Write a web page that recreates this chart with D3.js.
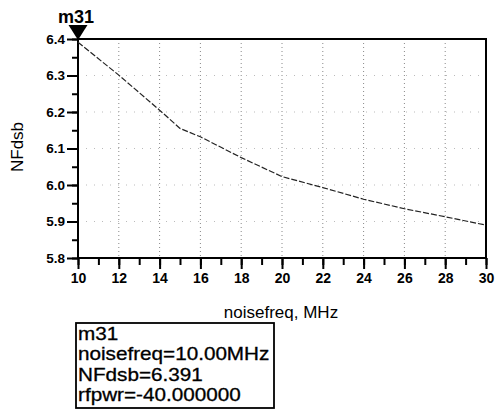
<!DOCTYPE html>
<html>
<head>
<meta charset="utf-8">
<script src="https://cdn.jsdelivr.net/npm/d3@7.9.0/dist/d3.min.js"></script>
<style>
  body { margin: 0; background: #fff; }
  svg { display: block; font-family: "Liberation Sans", Arial, sans-serif; }
</style>
</head>
<body>
<svg id="chart" width="495" height="412"></svg>
<script>
// Data
const noisefreq = [10, 12, 14, 15, 16, 18, 20, 22, 24, 26, 28, 30];
const nfdsb = [6.391, 6.301, 6.205, 6.155, 6.132, 6.075, 6.023, 5.993, 5.961, 5.935, 5.913, 5.890];
const xTicks = [10, 12, 14, 16, 18, 20, 22, 24, 26, 28, 30];
const yTicks = [5.8, 5.9, 6.0, 6.1, 6.2, 6.3, 6.4];
const markerName = 'm31';
const markerLines = ['m31', 'noisefreq=10.00MHz', 'NFdsb=6.391', 'rfpwr=-40.000000'];

const svg = d3.select('#chart');
const plotLeft = 78, plotRight = 486, plotTop = 39, plotBottom = 258;

const x = d3.scaleLinear().domain([10, 30]).range([plotLeft, plotRight]);
const y = d3.scaleLinear().domain([5.8, 6.4]).range([plotBottom, plotTop]);

// Dotted grid
const grid = svg.append('g');
grid.selectAll('line.vg')
  .data(xTicks.slice(1, -1))
  .join('line')
  .attr('x1', (d) => x(d)).attr('x2', (d) => x(d))
  .attr('y1', plotTop).attr('y2', plotBottom)
  .attr('stroke', '#888').attr('stroke-width', 1)
  .attr('stroke-dasharray', '1,3');
grid.selectAll('line.hg')
  .data(yTicks.slice(1, -1))
  .join('line')
  .attr('x1', plotLeft).attr('x2', plotRight)
  .attr('y1', (d) => y(d)).attr('y2', (d) => y(d))
  .attr('stroke', '#bbb').attr('stroke-width', 1)
  .attr('stroke-dasharray', '1,7');

// Axes with minor ticks
const xMinor = d3.range(10, 31, 1);
const yMinor = d3.range(0, 13).map((i) => 5.8 + i * 0.05);

svg.append('g')
  .attr('transform', `translate(0,${plotBottom})`)
  .call(d3.axisBottom(x).tickValues(xMinor).tickSize(7).tickFormat(''))
  .call((g) => g.select('.domain').remove())
  .call((g) => g.selectAll('line').attr('stroke-width', 2));

svg.append('g')
  .attr('transform', `translate(0,${plotBottom})`)
  .call(d3.axisBottom(x).tickValues(xTicks).tickSize(11).tickPadding(4).tickFormat(d3.format('d')))
  .call((g) => g.select('.domain').remove())
  .call((g) => g.selectAll('line').attr('stroke-width', 2))
  .call((g) => g.selectAll('text')
    .attr('fill', '#000')
    .attr('font-size', 14)
    .attr('font-weight', 'bold')
    .attr('font-family', '"Liberation Sans", Arial, sans-serif'));

svg.append('g')
  .attr('transform', `translate(${plotLeft},0)`)
  .call(d3.axisLeft(y).tickValues(yMinor).tickSize(6).tickFormat(''))
  .call((g) => g.select('.domain').remove())
  .call((g) => g.selectAll('line').attr('stroke-width', 2));

svg.append('g')
  .attr('transform', `translate(${plotLeft},0)`)
  .call(d3.axisLeft(y).tickValues(yTicks).tickSize(11).tickPadding(2).tickFormat(d3.format('.1f')))
  .call((g) => g.select('.domain').remove())
  .call((g) => g.selectAll('line').attr('stroke-width', 2))
  .call((g) => g.selectAll('text')
    .attr('fill', '#000')
    .attr('font-size', 13.5)
    .attr('font-weight', 'bold')
    .attr('font-family', '"Liberation Sans", Arial, sans-serif'));

// Frame
svg.append('rect')
  .attr('x', plotLeft).attr('y', plotTop)
  .attr('width', plotRight - plotLeft).attr('height', plotBottom - plotTop)
  .attr('fill', 'none').attr('stroke', '#000').attr('stroke-width', 2);

// Data line
const line = d3.line().x((d, i) => x(noisefreq[i])).y((d) => y(d));
svg.append('path')
  .datum(nfdsb)
  .attr('d', line)
  .attr('fill', 'none')
  .attr('stroke', '#222')
  .attr('stroke-width', 1.2)
  .attr('stroke-dasharray', '6,2');

// Marker
const mx = x(noisefreq[0]);
const my = y(6.4) + 1;
svg.append('path')
  .attr('d', `M${mx - 9.5},${my - 15}L${mx + 9.5},${my - 15}L${mx},${my}Z`)
  .attr('fill', '#000');
svg.append('text')
  .attr('x', mx - 2).attr('y', 23)
  .attr('text-anchor', 'middle')
  .attr('font-size', 18)
  .attr('font-weight', 'bold')
  .text(markerName);

// Axis titles
svg.append('text')
  .attr('transform', 'translate(23,147) rotate(-90)')
  .attr('text-anchor', 'middle')
  .attr('font-size', 17)
  .text('NFdsb');

svg.append('text')
  .attr('x', 281).attr('y', 318)
  .attr('text-anchor', 'middle')
  .attr('font-size', 17)
  .text('noisefreq, MHz');

// Marker readout box
svg.append('rect')
  .attr('x', 76).attr('y', 323)
  .attr('width', 198).attr('height', 85)
  .attr('fill', '#fff').attr('stroke', '#000').attr('stroke-width', 1.8);

svg.append('g')
  .attr('transform', 'translate(78,0) scale(1.15,1)')
  .selectAll('text')
  .data(markerLines)
  .join('text')
  .attr('x', 0)
  .attr('y', (d, i) => 340 + i * 20.5)
  .attr('font-size', 18)
  .attr('stroke', '#000').attr('stroke-width', 0.3)
  .text((d) => d);
</script>
</body>
</html>
